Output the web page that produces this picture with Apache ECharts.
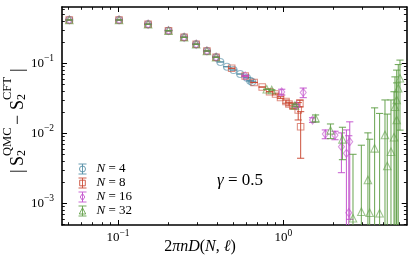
<!DOCTYPE html>
<html><head><meta charset="utf-8">
<script src="https://cdn.jsdelivr.net/npm/echarts@6/dist/echarts.min.js"></script>
<style>html,body{margin:0;padding:0;background:#fff}#c{width:415px;height:256px}</style>
</head><body><div id="c"></div>
<script>
// ---- data ----
const commonX = [0.0507, 0.1014, 0.152, 0.202, 0.251, 0.297, 0.345, 0.392];
const commonY = [0.416, 0.416, 0.361, 0.292, 0.235, 0.187, 0.150, 0.122];
const commonErr = [0, 0, 0, 0, 0, 0, 0, 0];

const n4X = commonX.concat([0.416, 0.456, 0.500, 0.548, 0.602, 0.630, 0.648]);
const n4Y = commonY.concat([0.1045, 0.0894, 0.0801, 0.0703, 0.0622, 0.0563, 0.0541]);
const n4Err = commonErr.concat([0, 0, 0, 0, 0, 0, 0]);

const n8X = commonX.concat([0.487, 0.588, 0.666, 0.745, 0.826, 0.898, 0.962, 1.038, 1.082, 1.144, 1.231, 1.26, 1.273]);
const n8Y = commonY.concat([0.0849, 0.0659, 0.0532, 0.0458, 0.0393, 0.0364, 0.0324, 0.0284, 0.0262, 0.0245, 0.0215, 0.0268, 0.0124]);
const n8Err = commonErr.concat([0, 0, 0, 0, 0, 0.001, 0.001, 0.0015, 0.0015, 0.002, 0.006, 0.003, 0.008]);

const n16X = commonX.concat([0.588, 0.978, 1.204, 1.32, 1.503, 1.796, 2.054, 2.248, 2.41, 2.523, 2.489]);
const n16Y = commonY.concat([0.0659, 0.0389, 0.0248, 0.0383, 0.0155, 0.00977, 0.0094, 0.00644, 0.00518, 0.00759, 0.000734]);
const n16Err = commonErr.concat([0, 0.0037, 0.001, 0.006, 0.0012, 0.0014, 0.0013, 0.0037, 0.006, 0.007, 0.0085]);

const n32X = commonX.concat([0.794, 0.851, 1.176, 1.567, 1.93, 2.28, 2.64, 2.967, 3.25, 3.33, 3.567, 3.824, 4.123, 4.257, 4.482, 4.675, 4.853, 4.739, 4.853, 4.963, 5.081]);
const n32Y = commonY.concat([0.0425, 0.0416, 0.025, 0.0164, 0.011, 0.0082, 0.000611, 0.000759, 0.00215, 0.000734, 0.0061, 0.00072, 0.00946, 0.00341, 0.00546, 0.00877, 0.0155, 0.024, 0.0299, 0.044, 0.0611]);
const n32Err = commonErr.concat([0, 0, 0.001, 0.0019, 0.0026, 0.004, 0.0044, 0.006, 0.008, 0.0075, 0.017, 0.0185, 0.0205, 0.0154, 0.0245, 0.0305, 0.037, 0.04, 0.05, 0.052, 0.05]);

const seriesNames = ['N = 4', 'N = 8', 'N = 16', 'N = 32'];
const xMajorTicks = [0.1, 1];
const xMinorTicks = [0.05, 0.06, 0.07, 0.08, 0.09, 0.2, 0.3, 0.4, 0.5, 0.6, 0.7, 0.8, 0.9, 2, 3, 4, 5];
const yMajorTicks = [0.001, 0.01, 0.1];
const yMinorTicks = [0.0005, 0.0006, 0.0007, 0.0008, 0.0009, 0.002, 0.003, 0.004, 0.005, 0.006, 0.007, 0.008, 0.009,
  0.02, 0.03, 0.04, 0.05, 0.06, 0.07, 0.08, 0.09, 0.2, 0.3, 0.4, 0.5, 0.6];
const xRange = [0.0458, 5.58];
const yRange = [0.00049, 0.637];

// ---- styling ----
const F = "'Liberation Serif','DejaVu Serif',serif";
const colors = ['#4f8ba3', '#c9452f', '#c24fcc', '#5e9e44'];
const symbols = ['circle', 'rect', 'diamond', 'triangle'];
const symSizes = [7, 6.5, [6, 8], 7.5];
const legendIcons = [
  'path://M0,0L8,0M0,10L8,10M4,0L4,10M1,5A3,3,0,1,0,7,5A3,3,0,1,0,1,5Z',
  'path://M0,0L8,0M0,10L8,10M4,0L4,10M1.2,2.2L6.8,2.2L6.8,7.8L1.2,7.8Z',
  'path://M0,0L8,0M0,10L8,10M4,0L4,10M4,1.5L6.3,5L4,8.5L1.7,5Z',
  'path://M0,0L8,0M0,10L8,10M4,0L4,10M4,1.8L7.2,8L0.8,8Z'
];
const sets = [[n4X, n4Y, n4Err], [n8X, n8Y, n8Err], [n16X, n16Y, n16Err], [n32X, n32Y, n32Err]];

function supLabel(v) {
  const e = Math.round(Math.log10(v));
  return '{b|10}{s|' + (e < 0 ? '\u2212' + (-e) : e) + '}';
}
const labelRich = {
  b: { fontFamily: F, fontSize: 13, color: '#000' },
  s: { fontFamily: F, fontSize: 9.5, color: '#000', padding: [0, 0, 10, 0] }
};

function axisPair(kind, pos, major, minor, range, withLabels) {
  const base = {
    type: 'log', logBase: 10, min: range[0], max: range[1], position: pos,
    splitLine: { show: false }, minorTick: { show: false }, minorSplitLine: { show: false }
  };
  const a = Object.assign({}, base, {
    axisLine: { show: true, lineStyle: { color: '#000', width: 1.6 } },
    axisTick: { show: true, inside: true, length: 5, customValues: major, lineStyle: { color: '#000', width: 1 } },
    axisLabel: withLabels ? {
      show: true, customValues: major, formatter: supLabel, rich: labelRich,
      margin: kind === 'x' ? 3 : 8
    } : { show: false }
  });
  const b = Object.assign({}, base, {
    axisLine: { show: false },
    axisTick: { show: true, inside: true, length: 2.8, customValues: minor, lineStyle: { color: '#000', width: 0.9 } },
    axisLabel: { show: false }
  });
  return [a, b];
}

const xAxes = axisPair('x', 'bottom', xMajorTicks, xMinorTicks, xRange, true)
  .concat(axisPair('x', 'top', xMajorTicks, xMinorTicks, xRange, false));
const yAxes = axisPair('y', 'left', yMajorTicks, yMinorTicks, yRange, true)
  .concat(axisPair('y', 'right', yMajorTicks, yMinorTicks, yRange, false));

function errRender(params, api) {
  const x = api.value(0), y = api.value(1), e = api.value(2);
  const c = api.coord([x, y]);
  const cs = params.coordSys;
  const top = cs.y, bot = cs.y + cs.height;
  const yHi = api.coord([x, y + e])[1];
  const yLo = (y - e) > 0 ? api.coord([x, y - e])[1] : bot + 20;
  const col = api.visual('color');
  const st = { stroke: col, lineWidth: 1.1, opacity: 0.85 };
  const w = 3.6;
  const ch = [];
  ch.push({ type: 'line', shape: { x1: c[0], y1: Math.max(yHi, top), x2: c[0], y2: Math.min(yLo, bot) }, style: st });
  if (yHi >= top) ch.push({ type: 'line', shape: { x1: c[0] - w, y1: yHi, x2: c[0] + w, y2: yHi }, style: st });
  if (yLo <= bot) ch.push({ type: 'line', shape: { x1: c[0] - w, y1: yLo, x2: c[0] + w, y2: yLo }, style: st });
  return { type: 'group', children: ch };
}

const series = [];
sets.forEach((s, i) => {
  const data = s[0].map((x, k) => [x, s[1][k], s[2][k]]);
  series.push({
    name: seriesNames[i], type: 'custom', renderItem: errRender,
    xAxisIndex: 0, yAxisIndex: 0, encode: { x: 0, y: 1 },
    itemStyle: { color: colors[i] }, data: data, z: 2 + i * 2, silent: true
  });
  series.push({
    name: seriesNames[i], type: 'scatter', xAxisIndex: 0, yAxisIndex: 0,
    symbol: symbols[i], symbolSize: symSizes[i],
    itemStyle: { color: 'rgba(0,0,0,0)', borderColor: colors[i], borderWidth: 1.1, opacity: 0.6 },
    data: data.map(d => [d[0], d[1]]), z: 3 + i * 2, silent: true
  });
});

const chart = echarts.init(document.getElementById('c'), null, { renderer: 'canvas' });
chart.setOption({
  animation: false,
  backgroundColor: '#fff',
  grid: { left: 62, right: 8.3, top: 7, bottom: 31, containLabel: false },
  xAxis: xAxes,
  yAxis: yAxes,
  legend: {
    orient: 'vertical', left: 78, top: 162, itemWidth: 8, itemHeight: 10, itemGap: 0,
    selectedMode: false, padding: 0,
    data: seriesNames.map((n, i) => ({
      name: n, icon: legendIcons[i],
      itemStyle: { color: 'rgba(0,0,0,0)', borderColor: colors[i], borderWidth: 1, opacity: 0.85 }
    })),
    formatter: n => '{g|}{i|N} = ' + n.split('= ')[1],
    textStyle: {
      fontFamily: F, fontSize: 13, color: '#000', lineHeight: 14,
      rich: { g: { width: 5, lineHeight: 14 }, i: { fontFamily: F, fontSize: 13, fontStyle: 'italic', color: '#000', lineHeight: 14 } }
    }
  },
  graphic: [
    {
      type: 'text', x: 240, y: 181,
      style: {
        text: '{i|\u03b3} = 0.5', align: 'center', verticalAlign: 'middle',
        fontFamily: F, fontSize: 17, fill: '#000',
        rich: { i: { fontFamily: F, fontSize: 17, fontStyle: 'italic', fill: '#000' } }
      }
    },
    {
      type: 'text', x: 200, y: 247,
      style: {
        text: '{r|2}{i|\u03c0nD}{r|(}{i|N}{r|, }{i|\u2113}{r|)}', align: 'center', verticalAlign: 'middle',
        fontFamily: F, fontSize: 16, fill: '#000',
        rich: {
          r: { fontFamily: F, fontSize: 16, fill: '#000' },
          i: { fontFamily: F, fontSize: 16, fontStyle: 'italic', fill: '#000' }
        }
      }
    },
    {
      type: 'group', x: 18, y: 115, rotation: Math.PI / 2,
      children: [
        { type: 'text', x: -58, y: 0, style: { text: '|', fontFamily: F, fontSize: 18, fill: '#000', verticalAlign: 'middle' } },
        { type: 'text', x: -51, y: 0, style: { text: 'S', fontFamily: F, fontSize: 18, fill: '#000', verticalAlign: 'middle' } },
        { type: 'text', x: -41, y: 4, style: { text: '2', fontFamily: F, fontSize: 12, fill: '#000', verticalAlign: 'middle' } },
        { type: 'text', x: -41, y: -10, style: { text: 'QMC', fontFamily: F, fontSize: 12.5, fill: '#000', verticalAlign: 'middle' } },
        { type: 'text', x: -10, y: 0, style: { text: '\u2212', fontFamily: F, fontSize: 18, fill: '#000', verticalAlign: 'middle' } },
        { type: 'text', x: 5, y: 0, style: { text: 'S', fontFamily: F, fontSize: 18, fill: '#000', verticalAlign: 'middle' } },
        { type: 'text', x: 15, y: 4, style: { text: '2', fontFamily: F, fontSize: 12, fill: '#000', verticalAlign: 'middle' } },
        { type: 'text', x: 15, y: -10, style: { text: 'CFT', fontFamily: F, fontSize: 12.5, fill: '#000', verticalAlign: 'middle' } },
        { type: 'text', x: 43, y: 0, style: { text: '|', fontFamily: F, fontSize: 18, fill: '#000', verticalAlign: 'middle' } }
      ]
    }
  ],
  series: series
});
</script>
</body></html>
